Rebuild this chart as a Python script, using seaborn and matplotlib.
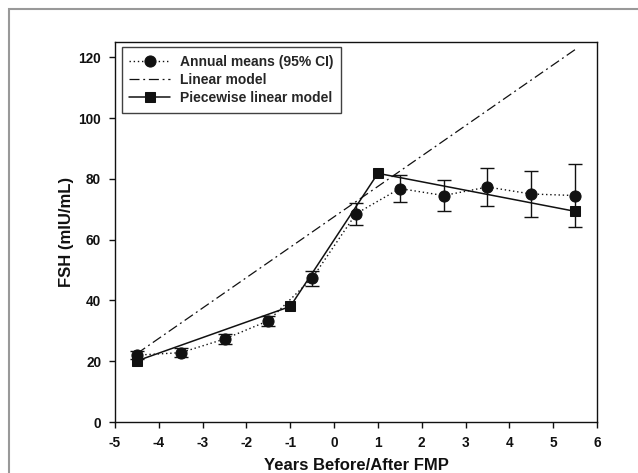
import matplotlib
matplotlib.use("Agg")
import matplotlib.pyplot as plt
import seaborn as sns
import pandas as pd
from matplotlib.patches import Rectangle

# Data
years = [-4.5, -3.5, -2.5, -1.5, -0.5, 0.5, 1.5, 2.5, 3.5, 4.5, 5.5]
means = [22.0, 22.8, 27.3, 33.3, 47.3, 68.5, 76.8, 74.5, 77.3, 75.0, 74.5]
ci_low = [20.6, 21.3, 25.8, 31.6, 44.7, 64.8, 72.3, 69.3, 71.2, 67.5, 64.3]
ci_high = [23.4, 24.3, 28.8, 35.0, 49.7, 72.1, 81.3, 79.6, 83.5, 82.7, 84.8]

linear_x = [-4.5, 5.5]
linear_y = [22.5, 122.5]

piece_x = [-4.5, -1.0, 1.0, 5.5]
piece_y = [20.1, 38.0, 81.8, 69.3]

xticks = [-5, -4, -3, -2, -1, 0, 1, 2, 3, 4, 5, 6]
yticks = [0, 20, 40, 60, 80, 100, 120]

sns.set_theme(style="white")
plt.rcParams["font.family"] = ["Liberation Sans", "DejaVu Sans"]
plt.rcParams["font.weight"] = "bold"
plt.rcParams["axes.unicode_minus"] = False

fig = plt.figure(figsize=(6.38, 4.73), dpi=100)
ax = fig.add_axes([115 / 638, 1 - 422 / 473, (597 - 115) / 638, (422 - 42) / 473])

df_means = pd.DataFrame({"x": years, "y": means})
df_lin = pd.DataFrame({"x": linear_x, "y": linear_y})
df_pw = pd.DataFrame({"x": piece_x, "y": piece_y})

# error bars
lo = [m - l for m, l in zip(means, ci_low)]
hi = [h - m for m, h in zip(means, ci_high)]
ax.errorbar(years, means, yerr=[lo, hi], fmt="none", ecolor="#111111",
            elinewidth=1.0, capsize=5, capthick=1.0, zorder=2)

sns.lineplot(data=df_means, x="x", y="y", ax=ax, color="#111111",
             linestyle=(0, (1, 2)), linewidth=1.0, marker="o", markersize=8,
             markeredgecolor="#111111", sort=False, zorder=3)
sns.lineplot(data=df_lin, x="x", y="y", ax=ax, color="#111111",
             linestyle=(0, (8, 3, 1.5, 3)), linewidth=0.9, sort=False, zorder=3)
sns.lineplot(data=df_pw, x="x", y="y", ax=ax, color="#111111",
             linestyle="-", linewidth=1.1, marker="s", markersize=6.5,
             markeredgecolor="#111111", sort=False, zorder=4)

lines = ax.get_lines()
h_means, h_lin, h_pw = lines[-3], lines[-2], lines[-1]

leg = ax.legend([h_means, h_lin, h_pw],
                ["Annual means (95% CI)", "Linear model", "Piecewise linear model"],
                loc="upper left", bbox_to_anchor=(0.014, 0.987), frameon=True,
                fancybox=False, edgecolor="#111111",
                prop={"weight": "bold", "size": 10}, handlelength=2.9,
                borderpad=0.55, labelspacing=0.3, handletextpad=0.75,
                borderaxespad=0.0)
leg.get_frame().set_linewidth(1.0)

ax.set_xlim(-5, 6)
ax.set_ylim(0, 125)
ax.set_xticks(xticks)
ax.set_yticks(yticks)
ax.set_xticklabels([str(t) for t in xticks], fontsize=9.8, fontweight="bold")
ax.set_yticklabels([str(t) for t in yticks], fontsize=9.8, fontweight="bold")
ax.tick_params(axis="both", direction="out", length=4, width=1, color="#111111",
               bottom=True, left=True, pad=6, labelcolor="#111111")

for s in ax.spines.values():
    s.set_visible(True)
    s.set_color("#111111")
    s.set_linewidth(1.0)

ax.set_xlabel("Years Before/After FMP", fontsize=12, fontweight="bold",
              color="#111111", labelpad=6)
ax.set_ylabel("FSH (mIU/mL)", fontsize=12, fontweight="bold",
              color="#111111", labelpad=3)

# outer gray frame
fig.patches.append(Rectangle((9 / 638, -0.1), 1.2, 1.1 - 9 / 473,
                             transform=fig.transFigure, fill=False,
                             edgecolor="#999999", linewidth=1.5))

fig.savefig("out.png", dpi=100)
